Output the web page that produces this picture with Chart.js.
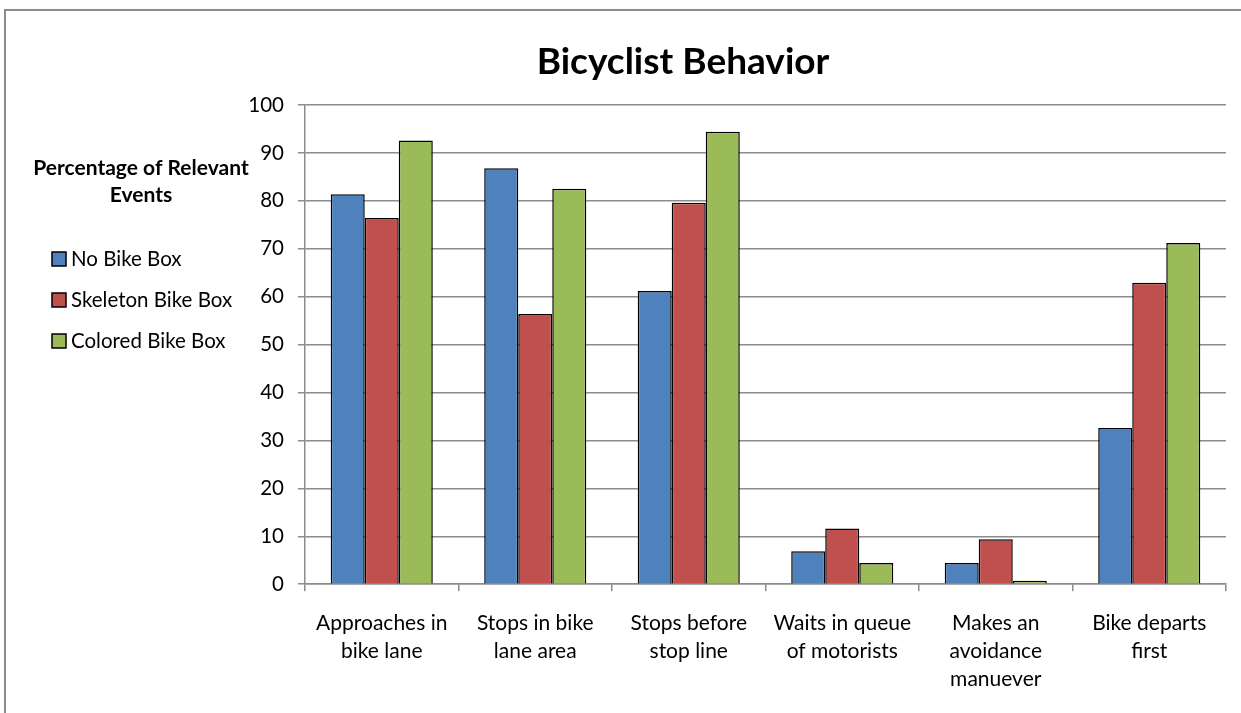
<!DOCTYPE html>
<html>
<head>
<meta charset="utf-8">
<script src="https://cdn.jsdelivr.net/npm/chart.js@4/dist/chart.umd.min.js"></script>
<style>
  html, body { margin: 0; padding: 0; background: #fff; overflow: hidden; }
  #wrap { position: absolute; left: 0; top: 0; width: 1241px; height: 713px; }
  #frame { position: absolute; left: 4px; top: 9px; width: 1260px; height: 720px; border: 2px solid #8c8c8c; box-sizing: border-box; }
  canvas { position: absolute; left: 0; top: 0; }
</style>
</head>
<body>
<div id="wrap">
  <div id="frame"></div>
  <canvas id="c" width="1241" height="713"></canvas>
</div>
<script>
const categories = [
  ["Approaches in", "bike lane"],
  ["Stops in bike", "lane area"],
  ["Stops before", "stop line"],
  ["Waits in queue", "of motorists"],
  ["Makes an", "avoidance", "manuever"],
  ["Bike departs", "first"]
];
const seriesNames = ["No Bike Box", "Skeleton Bike Box", "Colored Bike Box"];
const noBikeBox = [81.4, 86.8, 61.2, 6.9, 4.4, 32.6];
const skeletonBikeBox = [76.4, 56.4, 79.6, 11.6, 9.4, 62.9];
const coloredBikeBox = [92.6, 82.5, 94.4, 4.4, 0.7, 71.2];
const seriesColors = ["#4F81BD", "#C0504D", "#9BBB59"];
const legendTitle = ["Percentage of Relevant", "Events"];
const chartTitle = "Bicyclist Behavior";

const FONT = "Lato, 'DejaVu Sans', sans-serif";

const sideLegend = {
  id: 'sideLegend',
  afterDraw(chart) {
    const ctx = chart.ctx;
    ctx.save();
    ctx.fillStyle = '#000';
    ctx.textAlign = 'center';
    ctx.textBaseline = 'middle';
    ctx.font = "bold 21px " + FONT;
    ctx.fillText(legendTitle[0], 141, 168);
    ctx.fillText(legendTitle[1], 141, 195);
    const ys = [259, 300, 341];
    ctx.textAlign = 'left';
    ctx.font = "20.5px " + FONT;
    chart.data.datasets.forEach((ds, i) => {
      const y = ys[i];
      ctx.fillStyle = ds.backgroundColor;
      ctx.fillRect(52, y - 7, 14, 14);
      ctx.lineWidth = 1.5;
      ctx.strokeStyle = '#000';
      ctx.strokeRect(52, y - 7, 14, 14);
      ctx.fillStyle = '#000';
      ctx.fillText(ds.label, 71, y);
    });
    ctx.restore();
  }
};

new Chart(document.getElementById('c'), {
  type: 'bar',
  data: {
    labels: categories,
    datasets: [
      { label: seriesNames[0], data: noBikeBox, backgroundColor: seriesColors[0] },
      { label: seriesNames[1], data: skeletonBikeBox, backgroundColor: seriesColors[1] },
      { label: seriesNames[2], data: coloredBikeBox, backgroundColor: seriesColors[2] }
    ].map(d => Object.assign(d, { borderColor: '#000', borderWidth: 1.5, categoryPercentage: 0.665, barPercentage: 1.0 }))
  },
  options: {
    responsive: false,
    animation: false,
    devicePixelRatio: 1,
    layout: { padding: { left: 140, right: 15, top: 0, bottom: 2 } },
    plugins: {
      legend: { display: false },
      tooltip: { enabled: false },
      title: {
        display: true,
        text: chartTitle,
        color: '#000',
        font: { family: FONT, size: 37, weight: 'bold', lineHeight: 1.2 },
        padding: { top: 40, bottom: 20.6 }
      }
    },
    scales: {
      x: {
        offset: true,
        grid: { display: true, offset: true, drawOnChartArea: false, drawTicks: true, tickLength: 7, color: '#8c8c8c', lineWidth: 1.5 },
        border: { display: true, color: '#8c8c8c', width: 1.5 },
        ticks: { color: '#000', font: { family: FONT, size: 21, lineHeight: 1.33 }, padding: 18, maxRotation: 0, autoSkip: false }
      },
      y: {
        min: 0, max: 100,
        afterFit(scale) { scale.width = 165; },
        grid: { color: '#8c8c8c', lineWidth: 1.5, drawTicks: true, tickLength: 7 },
        border: { display: true, color: '#8c8c8c', width: 1.5 },
        ticks: { stepSize: 10, color: '#000', font: { family: FONT, size: 20.5 }, padding: 14 }
      }
    }
  },
  plugins: [sideLegend]
});
</script>
</body>
</html>
